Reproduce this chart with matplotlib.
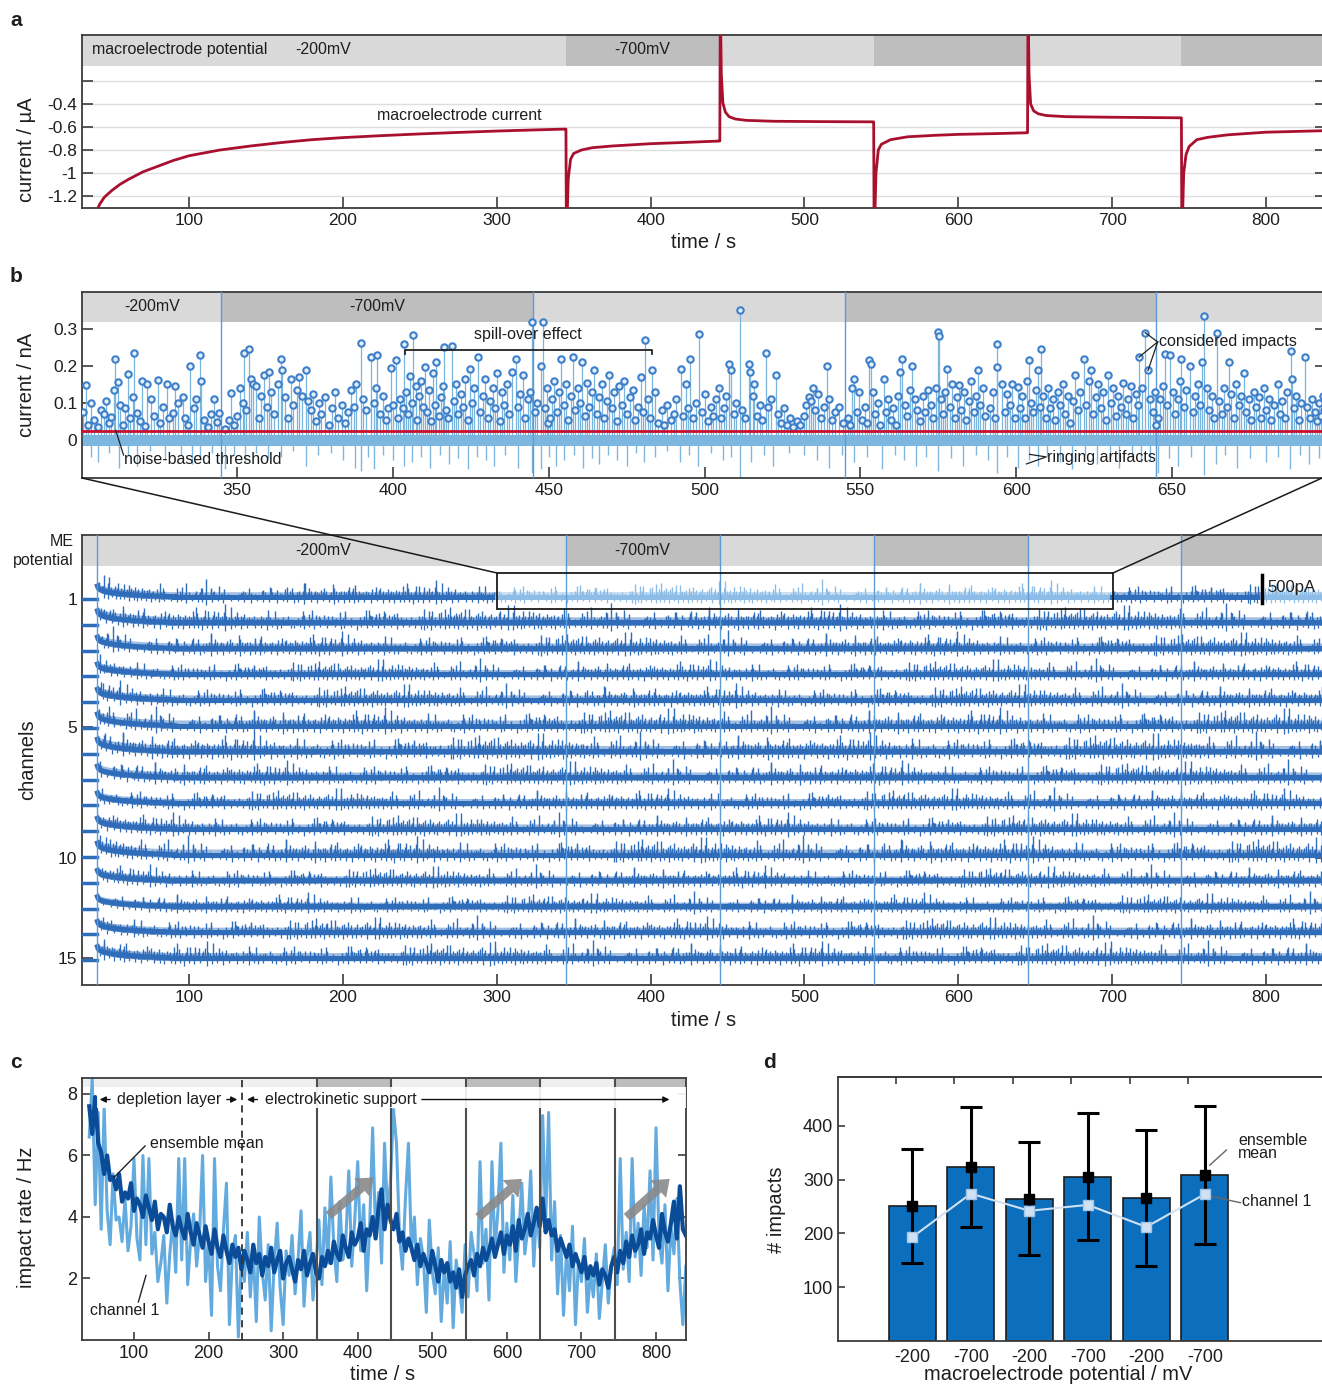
import numpy as np
import matplotlib
matplotlib.use("Agg")
import matplotlib.pyplot as plt
from matplotlib.patches import Rectangle, ConnectionPatch, FancyArrowPatch

plt.rcParams["font.family"] = ["Liberation Sans", "DejaVu Sans"]
plt.rcParams["axes.linewidth"] = 1.3
plt.rcParams["axes.edgecolor"] = "#3c3c3c"

W, H = 1322, 1385

# potential steps of the macroelectrode (s, mV)
step_edges = [0, 345, 445, 545, 645, 745, 900]
step_mv = [-200, -700, -200, -700, -200, -700]
record_start = 40.5

# macroelectrode current (s, uA)
me_t = [40, 42, 45, 50, 55, 60, 70, 80, 90, 100, 120, 140, 160, 180, 200, 225, 250, 275, 300, 325, 344.5,
        345, 345.3, 346.5, 348, 350, 355, 362, 375, 400, 420, 444.5,
        445, 445.3, 446, 447, 448.6, 451, 455, 462, 480, 510, 544.5,
        545, 545.3, 546.5, 548, 550, 556, 567, 585, 600, 625, 644.5,
        645, 645.3, 646, 647, 649, 652, 657, 670, 700, 744.5,
        745, 745.3, 746.5, 748, 750, 755, 762, 775, 800, 838]
me_i = [-1.33, -1.27, -1.21, -1.15, -1.10, -1.06, -0.99, -0.94, -0.89, -0.85, -0.80, -0.765, -0.735, -0.71,
        -0.692, -0.675, -0.66, -0.647, -0.635, -0.625, -0.618,
        -0.618, -1.6, -1.05, -0.88, -0.83, -0.80, -0.78, -0.765, -0.745, -0.735, -0.722,
        -0.722, 0.5, -0.15, -0.39, -0.47, -0.51, -0.53, -0.542, -0.55, -0.553, -0.555,
        -0.555, -1.6, -1.0, -0.80, -0.75, -0.71, -0.685, -0.672, -0.664, -0.657, -0.65,
        -0.65, 0.5, -0.15, -0.40, -0.46, -0.485, -0.50, -0.51, -0.515, -0.52,
        -0.52, -1.6, -1.0, -0.84, -0.77, -0.71, -0.69, -0.668, -0.645, -0.632]

# detected impacts on channel 1 (s, pA)
impact_t = [
    300.6, 301.4, 302.2, 303.0, 304.1, 305.3, 306.5, 307.2, 308.0, 308.9,
    309.6, 310.4, 311.0, 311.8, 312.6, 313.5, 314.2, 315.0, 315.7, 316.5,
    317.0, 317.9, 318.8, 319.6, 320.5, 321.2, 322.3, 323.4, 324.5, 325.3,
    326.2, 327.4, 328.3, 329.5, 330.1, 331.0, 332.6, 333.4, 334.2, 335.0,
    336.1, 337.0, 338.1, 338.5, 339.5, 340.6, 341.8, 342.6, 343.5, 344.3,
    346.0, 347.5, 348.2, 349.0, 350.1, 351.0, 351.8, 352.2, 353.0, 354.0,
    354.4, 355.2, 356.1, 357.0, 357.8, 358.6, 359.5, 360.2, 361.0, 362.0,
    363.1, 364.0, 364.5, 365.5, 366.3, 367.2, 368.0, 369.1, 370.0, 371.0,
    372.0, 372.8, 373.6, 374.5, 375.4, 376.3, 377.0, 378.2, 379.5, 380.4,
    381.3, 382.5, 383.6, 384.8, 385.6, 386.5, 387.4, 388.2, 389.7, 390.5,
    391.3, 392.9, 393.8, 394.6, 395.0, 396.0, 397.0, 397.8, 398.6, 399.4,
    400.2, 401.0, 401.7, 402.4, 403.2, 403.7, 404.3, 405.0, 405.6, 406.2,
    406.6, 407.3, 407.9, 408.5, 409.0, 409.6, 410.3, 410.9, 411.5, 412.1,
    412.8, 413.4, 414.0, 414.7, 415.3, 416.0, 416.4, 417.2, 417.8, 418.9,
    419.6, 420.3, 421.0, 421.8, 422.5, 423.3, 424.0, 424.7, 425.5, 426.2,
    427.4, 428.0, 428.8, 429.6, 430.4, 431.2, 432.0, 432.8, 433.5, 434.3,
    435.0, 435.8, 436.6, 437.4, 438.2, 439.4, 440.1, 440.9, 441.7, 442.5,
    443.3, 444.0, 444.6, 445.5, 446.3, 447.6, 448.1, 448.8, 449.5, 449.9,
    450.3, 451.0, 451.8, 452.6, 453.4, 454.0, 454.8, 455.6, 456.3, 457.2,
    457.9, 458.6, 459.4, 460.0, 460.7, 461.5, 462.3, 463.0, 463.8, 464.7,
    465.4, 466.2, 467.0, 467.8, 468.6, 469.4, 470.2, 471.0, 471.8, 472.6,
    473.4, 474.3, 475.2, 476.0, 476.9, 477.8, 478.6, 479.5, 480.3, 481.0,
    481.8, 482.5, 483.3, 484.0, 485.0, 486.2, 487.1, 488.0, 489.2, 490.1,
    491.0, 492.4, 493.2, 493.9, 494.8, 495.5, 496.4, 497.3, 498.3, 499.2,
    500.2, 501.1, 502.0, 502.8, 503.6, 504.5, 505.4, 506.2, 507.0, 508.0,
    508.4, 509.3, 510.2, 511.3, 512.1, 513.0, 514.3, 514.6, 515.4, 516.0,
    516.9, 517.7, 518.5, 519.7, 520.5, 521.4, 522.8, 523.6, 524.5, 525.5,
    526.4, 527.3, 528.5, 529.6, 530.6, 531.8, 532.7, 533.5, 534.3, 534.8,
    535.6, 536.5, 537.4, 538.3, 539.3, 540.1, 541.0, 542.0, 543.2, 544.4,
    546.0, 546.8, 547.3, 548.0, 548.8, 549.6, 550.5, 551.4, 552.2, 552.8,
    553.3, 554.0, 554.8, 555.6, 556.4, 557.5, 558.2, 559.0, 559.8, 560.6,
    561.4, 562.2, 562.7, 563.4, 564.2, 565.0, 565.8, 566.7, 567.5, 568.3,
    569.2, 570.0, 570.9, 571.8, 572.6, 573.4, 574.2, 575.0, 575.1, 575.8,
    576.6, 577.3, 577.9, 578.7, 579.5, 580.3, 581.0, 581.6, 582.4, 583.2,
    584.0, 584.8, 585.6, 586.4, 587.0, 587.6, 588.4, 589.2, 590.0, 591.6,
    592.4, 593.2, 593.8, 594.0, 595.6, 596.4, 597.2, 598.0, 598.8, 599.6,
    600.5, 601.3, 602.0, 602.8, 603.6, 604.1, 604.6, 605.4, 606.2, 606.9,
    607.6, 608.0, 608.7, 609.5, 610.3, 611.0, 611.8, 612.6, 613.4, 614.2,
    615.0, 615.8, 616.6, 617.4, 618.2, 619.0, 619.8, 620.6, 621.7, 622.4,
    623.2, 624.0, 624.8, 625.6, 626.4, 627.2, 628.0, 628.8, 629.6, 630.4,
    631.2, 632.0, 632.8, 633.6, 634.4, 635.2, 636.0, 636.8, 637.6, 638.4,
    639.0, 639.4, 640.4, 641.4, 642.2, 643.0, 643.8, 644.6, 645.0, 645.4,
    646.2, 647.0, 647.6, 648.3, 649.4, 650.2, 651.0, 651.8, 652.6, 653.0,
    653.8, 654.6, 655.8, 656.6, 657.4, 658.2, 659.0, 659.6, 660.4, 661.2,
    662.0, 662.8, 663.6, 664.4, 665.2, 666.0, 666.8, 667.6, 668.2, 669.0,
    669.8, 670.6, 671.4, 672.2, 673.0, 673.8, 674.6, 675.4, 676.2, 677.0,
    677.8, 678.6, 679.4, 680.2, 681.0, 681.8, 682.6, 683.9, 684.6, 685.4,
    686.2, 687.0, 688.2, 688.4, 689.0, 689.8, 690.6, 691.4, 692.6, 693.4,
    694.2, 695.0, 695.8, 696.6, 697.1, 697.8, 698.4, 698.9, 699.3, 699.8]
impact_pA = [
    75, 149, 40, 100, 55, 35, 82, 70, 105, 45,
    62, 135, 220, 157, 95, 40, 85, 178, 60, 115,
    235, 72, 50, 158, 38, 150, 110, 65, 162, 45,
    90, 150, 58, 72, 145, 100, 115, 60, 40, 200,
    85, 110, 230, 160, 55, 35, 70, 110, 48, 72,
    30, 55, 127, 40, 65, 140, 100, 235, 80, 247,
    165, 150, 145, 60, 120, 175, 90, 185, 130, 70,
    150, 220, 190, 115, 60, 165, 95, 135, 170, 120,
    190, 105, 80, 125, 50, 100, 70, 115, 40, 85,
    130, 60, 95, 45, 75, 135, 90, 150, 263, 110,
    82, 225, 100, 140, 230, 70, 120, 55, 85, 195,
    95, 215, 60, 110, 85, 260, 130, 70, 172, 100,
    285, 145, 55, 120, 160, 90, 198, 75, 135, 50,
    180, 95, 210, 65, 115, 145, 252, 80, 60, 255,
    105, 150, 70, 125, 90, 165, 55, 192, 100, 140,
    223, 75, 120, 165, 60, 105, 140, 85, 180, 50,
    130, 95, 150, 70, 185, 220, 90, 125, 175, 60,
    110, 130, 318, 75, 100, 200, 319, 85, 140, 45,
    60, 110, 160, 75, 130, 220, 95, 150, 55, 120,
    225, 80, 140, 100, 210, 65, 155, 90, 130, 190,
    70, 115, 150, 60, 105, 175, 85, 130, 50, 145,
    95, 160, 70, 115, 135, 55, 90, 170, 75, 270,
    110, 60, 190, 130, 45, 80, 40, 95, 55, 70,
    110, 193, 65, 150, 85, 220, 60, 100, 287, 75,
    125, 50, 90, 65, 110, 140, 60, 85, 120, 205,
    190, 70, 100, 350, 80, 60, 205, 185, 120, 150,
    65, 95, 55, 234, 90, 110, 175, 70, 45, 85,
    40, 60, 35, 50, 40, 65, 95, 115, 105, 140,
    80, 125, 60, 90, 200, 110, 55, 75, 90, 45,
    60, 40, 140, 165, 75, 130, 55, 90, 45, 215,
    205, 130, 70, 100, 40, 165, 75, 110, 55, 85,
    40, 120, 185, 220, 95, 65, 135, 200, 110, 80,
    50, 120, 75, 135, 95, 60, 140, 293, 280, 110,
    70, 130, 193, 90, 150, 60, 115, 148, 80, 130,
    55, 105, 160, 75, 120, 190, 95, 140, 65, 85,
    130, 60, 260, 196, 150, 75, 125, 95, 150, 60,
    142, 85, 120, 60, 160, 215, 100, 75, 135, 190,
    90, 246, 120, 60, 140, 85, 110, 55, 130, 95,
    150, 70, 120, 45, 105, 175, 80, 130, 220, 95,
    160, 188, 70, 115, 150, 85, 130, 55, 175, 100,
    140, 65, 120, 90, 155, 70, 110, 145, 60, 125,
    95, 224, 140, 290, 188, 110, 75, 130, 40, 60,
    110, 145, 233, 95, 230, 130, 70, 110, 160, 220,
    90, 135, 200, 75, 120, 150, 95, 210, 335, 140,
    80, 120, 60, 290, 105, 70, 140, 90, 210, 125,
    60, 150, 95, 120, 180, 75, 110, 55, 130, 90,
    115, 60, 140, 80, 110, 55, 95, 150, 70, 105,
    60, 130, 240, 165, 85, 120, 55, 100, 224, 90,
    60, 110, 75, 50, 100, 65, 120, 80, 45, 95]

# negative ringing after impacts (s, pA below zero)
ringing_t = [
    303.0, 305.5, 309.0, 312.0, 315.0, 318.0, 322.0, 327.0, 332.0, 335.5,
    338.0, 342.0, 346.0, 349.0, 352.5, 356.0, 360.0, 364.0, 368.0, 372.0,
    376.0, 380.0, 384.0, 388.0, 389.8, 392.0, 394.0, 397.0, 400.0, 403.5,
    406.0, 409.0, 412.0, 415.0, 418.0, 421.0, 424.0, 427.0, 430.0, 432.5,
    436.0, 440.0, 444.6, 447.5, 450.0, 452.5, 455.0, 458.0, 461.0, 464.0,
    466.0, 469.0, 472.0, 475.0, 478.0, 480.5, 484.0, 488.0, 492.0, 495.0,
    498.0, 502.0, 506.0, 508.5, 511.3, 515.0, 519.0, 522.0, 527.0, 532.0,
    536.0, 540.0, 544.0, 548.0, 552.0, 557.0, 561.0, 564.0, 568.0, 571.0,
    575.0, 579.0, 583.0, 587.0, 591.0, 594.0, 597.0, 600.5, 604.0, 607.0,
    610.0, 614.0, 618.0, 622.0, 626.0, 630.0, 633.0, 637.0, 640.0, 643.0,
    645.5, 649.0, 652.0, 656.0, 660.4, 664.0, 667.0, 671.0, 675.0, 680.0,
    684.0, 688.0, 691.0, 694.0, 697.0]
ringing_pA = [
    45, 60, 35, 75, 40, 70, 30, 55, 40, 65,
    50, 35, 80, 40, 60, 35, 50, 45, 30, 70,
    40, 35, 55, 75, 85, 45, 80, 40, 55, 70,
    60, 45, 75, 40, 65, 50, 80, 45, 55, 70,
    40, 75, 90, 80, 45, 70, 55, 40, 75, 50,
    65, 40, 55, 70, 35, 60, 45, 30, 60, 40,
    70, 35, 55, 45, 100, 60, 40, 70, 35, 40,
    55, 75, 40, 60, 45, 80, 40, 55, 70, 45,
    85, 50, 70, 40, 55, 90, 45, 75, 55, 70,
    45, 60, 80, 40, 65, 50, 75, 45, 60, 55,
    90, 50, 70, 45, 95, 65, 40, 75, 50, 60,
    45, 80, 40, 65, 50]

noise_floor_pA = (-17, 13)
threshold_pA = 25

# per-channel offset of the impact pattern (s) and gain
channel_shift = [0, 137, 61, 222, 205, 33, 118, 97, 249, 171, 12, 186, 83, 224, 149]
channel_gain = [1.0, 1.1, 1.05, 0.95, 1.0, 1.1, 1.15, 1.05, 0.95, 1.0, 1.1, 0.95, 0.9, 1.0, 1.05]
# charging transient after switching on the recording (s after start, pA)
onset_t = [0, 0.5, 2, 5, 10, 16, 24, 35, 50]
onset_pA = [190, 150, 120, 95, 70, 50, 32, 15, 0]
# dense sub-impact noise band seen at overview scale (pA)
band_pA = (-10, 130)

# impact rate, 4 s bins from 40 s to 840 s (Hz)
rate_t = np.arange(40, 841, 4)
rate_mean = [
    7.6, 6.7, 7.9, 6.4, 6.1, 5.4, 6.0, 5.2, 5.3, 4.9,
    5.4, 4.5, 4.8, 4.6, 5.1, 4.2, 4.6, 4.4, 4.0, 4.7,
    4.3, 3.9, 4.5, 3.6, 4.1, 4.0, 3.5, 4.4, 3.7, 3.4,
    4.0, 3.6, 3.3, 4.1, 3.5, 3.1, 3.8, 3.4, 3.0, 3.7,
    3.2, 2.8, 3.6, 3.0, 2.7, 3.4, 2.9, 2.5, 3.1, 2.7,
    3.0, 2.3, 2.9, 2.6, 2.2, 3.1, 2.5, 2.8, 2.1, 2.7,
    2.4, 3.0, 2.2, 2.6, 2.9, 2.0, 2.5, 2.7, 2.3, 1.9,
    2.6, 2.3, 2.9, 2.1, 2.5, 2.8, 2.2, 2.0, 2.7, 2.4,
    2.9, 2.5, 3.2, 2.8, 2.6, 3.4, 3.0, 2.7, 3.5, 3.1,
    3.3, 3.8, 2.9, 3.6, 3.4, 4.0, 3.3, 4.3, 4.9, 3.6,
    4.4, 3.9, 3.6, 4.1, 3.2, 3.5, 2.9, 3.3, 3.0, 2.6,
    3.1, 2.4, 2.8, 2.5, 2.2, 2.9, 2.4, 1.9, 2.6, 2.2,
    2.5, 1.9, 2.2, 1.7, 2.3, 1.4, 2.1, 2.4, 2.6, 2.1,
    2.8, 2.4, 3.0, 2.6, 2.9, 3.3, 2.7, 3.1, 3.5, 2.8,
    3.4, 3.1, 3.7, 2.9, 3.9, 3.3, 3.6, 4.1, 3.4, 3.8,
    4.3, 3.7, 4.6, 3.5, 3.9, 3.4, 3.6, 2.9, 3.3, 3.0,
    2.7, 3.1, 2.4, 2.8, 2.5, 2.2, 2.7, 2.0, 2.4, 2.1,
    2.5, 1.8, 2.3, 2.1, 1.7, 2.4, 2.7, 2.2, 2.9, 2.5,
    3.2, 2.7, 3.4, 2.9, 3.1, 3.6, 2.8, 3.5, 3.3, 3.9,
    3.4, 3.0, 4.1, 3.5, 3.2, 3.8, 4.5, 3.3, 5.0, 3.6,
    3.4]
rate_ch1 = [
    6.6, 8.5, 4.4, 7.4, 3.6, 7.6, 4.2, 3.1, 5.4, 3.9,
    4.0, 3.2, 4.6, 2.9, 3.7, 5.9, 3.3, 2.6, 6.0, 3.1,
    5.9, 2.8, 3.5, 1.9, 2.5, 3.4, 1.2, 2.8, 3.9, 2.2,
    5.9, 2.6, 5.9, 1.8, 3.2, 4.1, 2.4, 3.5, 6.0, 1.9,
    3.2, 0.8, 5.9, 2.4, 1.6, 3.6, 5.1, 0.5, 2.8, 3.4,
    0.1, 2.6, 1.9, 3.5, 1.4, 2.9, 0.6, 4.0, 2.2, 1.3,
    3.1, 0.3, 2.5, 3.8, 1.7, 0.5, 2.9, 2.1, 3.4, 1.5,
    2.6, 4.2, 1.1, 2.7, 3.5, 1.3, 2.4, 3.9, 1.8, 4.3,
    2.5, 5.3, 3.0, 1.9, 4.5, 2.6, 3.2, 5.5, 2.4, 3.9,
    5.8, 2.9, 4.4, 1.6, 3.7, 6.9, 3.4, 4.8, 2.5, 6.4,
    4.1, 5.2, 7.5, 6.4, 3.4, 2.3, 4.6, 6.4, 2.9, 4.0,
    1.8, 3.3, 2.7, 0.9, 3.9, 2.2, 1.5, 3.0, 0.6, 2.4,
    1.2, 3.2, 0.4, 2.6, 1.8, 0.9, 3.1, 1.4, 3.5, 2.8,
    1.6, 5.8, 2.5, 3.6, 1.3, 5.8, 2.9, 4.2, 6.4, 2.2,
    3.8, 2.6, 4.7, 1.9, 3.4, 5.1, 2.8, 3.6, 5.5, 2.4,
    4.3, 3.0, 7.3, 3.8, 7.4, 2.6, 4.5, 1.5, 3.4, 0.8,
    2.9, 1.6, 3.7, 0.5, 2.6, 1.9, 3.3, 0.9, 2.2, 1.4,
    2.8, 0.7, 1.9, 3.1, 1.2, 2.4, 3.0, 1.8, 5.9, 2.3,
    3.5, 1.9, 5.9, 2.7, 3.8, 2.1, 4.4, 3.0, 5.5, 2.6,
    6.9, 3.3, 2.5, 4.4, 1.6, 3.7, 2.8, 4.6, 1.9, 0.5,
    2.4]

# impacts per potential step
step_labels = ["-200", "-700", "-200", "-700", "-200", "-700"]
count_mean = [251, 323, 264, 305, 266, 308]
count_err = [106, 112, 105, 118, 126, 128]
count_ch1 = [193, 274, 242, 253, 212, 273]

# ---------------------------------------------------------------
LIGHT, DARK = "#d9d9d9", "#bebebe"
TRACE, TRACE_LIGHT = "#2f6dbb", "#8dbde6"
SWITCH = "#5d9bd6"
TXT = "#1e1e1e"

fig = plt.figure(figsize=(W / 100, H / 100), dpi=100)


def add_axes(left, top, right, bottom):
    return fig.add_axes([left / W, 1 - bottom / H, (right - left) / W, (bottom - top) / H])


def fig_text(x, y, s, **kw):
    fig.text(x / W, 1 - y / H, s, color=TXT, **kw)


def draw_steps(ax, lo, hi, light=LIGHT, dark=DARK):
    for t0, t1, mv in zip(step_edges[:-1], step_edges[1:], step_mv):
        ax.add_patch(Rectangle((t0, lo), t1 - t0, hi - lo, facecolor=dark if mv == -700 else light,
                               edgecolor="none", zorder=0.5))


def style(ax, length=8, size=12.5):
    ax.tick_params(direction="in", length=length, width=1.2, labelsize=size, colors="#3c3c3c",
                   labelcolor=TXT, right=True, top=False)


# ---- a: macroelectrode current ----
ax_a = add_axes(82, 35, 1326, 208)
draw_steps(ax_a, -0.067, 0.25)
for v in [-1.2, -1.0, -0.8, -0.6, -0.4, -0.2]:
    ax_a.axhline(v, color="#dedede", lw=1, zorder=1)
ax_a.plot(me_t, me_i, color="#a8102e", lw=2, zorder=3)
ax_a.set_xlim(30.46, 838.98)
ax_a.set_ylim(-1.304, 0.2)
ax_a.set_yticks([-1.2, -1.0, -0.8, -0.6, -0.4, -0.2], ["-1.2", "-1", "-0.8", "-0.6", "-0.4", ""])
ax_a.set_xticks(range(100, 900, 100))
style(ax_a)
ax_a.text(37, 0.07, "macroelectrode potential", fontsize=11.5, va="center", color=TXT)
ax_a.text(187, 0.07, "-200mV", fontsize=11.5, ha="center", va="center", color=TXT)
ax_a.text(394.4, 0.07, "-700mV", fontsize=11.5, ha="center", va="center", color=TXT)
ax_a.text(275.9, -0.496, "macroelectrode current", fontsize=11.5, ha="center", va="center", color=TXT)

# ---- b: zoom into channel 1 ----
ax_b = add_axes(82, 292, 1326, 478)
draw_steps(ax_b, 0.32, 0.45)
ax_b.axhspan(noise_floor_pA[0] / 1000, noise_floor_pA[1] / 1000, color="#7db6df", lw=0, zorder=2)
rt = np.array(ringing_t)
rd = np.array(ringing_pA) / 1000
ax_b.vlines(rt, -rd, 0, color="#7db6df", lw=1, zorder=2)
it = np.array(impact_t)
ih = np.array(impact_pA) / 1000
ax_b.vlines(it, 0, ih, color="#7ab5de", lw=0.9, zorder=3)
ax_b.plot(it, ih, "o", ms=4.6, mfc="#e6f0fa", mec="#3d7fc8", mew=1.5, zorder=4)
ax_b.axhline(threshold_pA / 1000, color="#c8102e", lw=2, zorder=5)
for t in step_edges[1:5]:
    ax_b.axvline(t, color=SWITCH, lw=1, zorder=3)
ax_b.set_xlim(300.27, 699.4)
ax_b.set_ylim(-0.103, 0.4)
ax_b.set_yticks([0, 0.1, 0.2, 0.3], ["0", "0.1", "0.2", "0.3"])
ax_b.set_xticks(range(350, 700, 50))
style(ax_b)
ax_b.text(322.7, 0.36, "-200mV", fontsize=11.5, ha="center", va="center", color=TXT)
ax_b.text(394.9, 0.36, "-700mV", fontsize=11.5, ha="center", va="center", color=TXT)
ax_b.text(443.4, 0.284, "spill-over effect", fontsize=11.5, ha="center", va="center", color=TXT)
ax_b.plot([403.9, 403.9, 483.1, 483.1], [0.231, 0.243, 0.243, 0.231], color="#222", lw=1.3, zorder=6)
ax_b.text(645.8, 0.265, "considered impacts", fontsize=11.5, va="center", color=TXT, zorder=7)
for t, v in [(641.4, 0.29), (639.4, 0.224), (642.3, 0.188)]:
    ax_b.plot([645.4, t], [0.265, v], color="#222", lw=0.9, zorder=7)
ax_b.text(313.8, -0.054, "noise-based threshold", fontsize=11.5, va="center", color=TXT, zorder=7)
ax_b.plot([311.1, 313.6], [0.026, -0.041], color="#222", lw=0.9, zorder=7)
ax_b.text(609.8, -0.048, "ringing artifacts", fontsize=11.5, va="center", color=TXT, zorder=7)
ax_b.plot([604.3, 609.6, 603.3], [-0.039, -0.046, -0.065], color="#222", lw=0.9, zorder=7)

# ---- channel overview ----
ax_c = add_axes(82, 535, 1326, 985)
draw_steps(ax_c, -1.48, -0.28)
gain = 2.17  # channel units per nA (500 pA bar)
t_end = 838.98
band_t = np.concatenate([record_start + np.array(onset_t), [t_end]])
band_lift = np.concatenate([np.array(onset_pA), [0]]) / 1000
for k, (shift, g) in enumerate(zip(channel_shift, channel_gain)):
    base = k + 1
    tt = np.concatenate([it + n * 400 - shift for n in (-1, 0, 1)])
    hh = np.tile(ih, 3)
    keep = (tt > record_start + 0.8) & (tt < t_end)
    tt, hh = tt[keep], hh[keep]
    rr = np.concatenate([rt + n * 400 - shift for n in (-1, 0, 1)])
    dd = np.tile(rd, 3)
    keep = (rr > record_start + 0.8) & (rr < t_end)
    rr, dd = rr[keep], dd[keep]
    # lift of the trace during the charging transient
    lift = g * gain * np.interp(tt - record_start, onset_t, onset_pA) / 1000
    liftr = g * gain * np.interp(rr - record_start, onset_t, onset_pA) / 1000
    if k == 0:
        light = ((tt >= 300) & (tt <= 700)) | (tt >= 797.4)
        lightr = ((rr >= 300) & (rr <= 700)) | (rr >= 797.4)
        segs = [(90, 300, TRACE), (300, 700, TRACE_LIGHT), (700, 797.4, TRACE), (797.4, t_end, TRACE_LIGHT)]
    else:
        light = np.zeros(len(tt), bool)
        lightr = np.zeros(len(rr), bool)
        segs = [(90, t_end, TRACE)]
    # translucent noise band under the spikes
    for t0, t1, col in [(record_start, 90, TRACE)] + segs:
        m = (band_t >= t0) & (band_t <= t1)
        bt = np.concatenate([[t0], band_t[m], [t1]])
        bl = np.interp(bt, band_t, band_lift)
        ax_c.fill_between(bt, base - g * gain * (bl + band_pA[0] / 1000), base - g * gain * (bl + band_pA[1] / 1000),
                          color=col, alpha=0.45, lw=0, zorder=1.5)
    for mask, col in [(~light, TRACE), (light, TRACE_LIGHT)]:
        ax_c.vlines(tt[mask], base - lift[mask], base - lift[mask] - g * gain * hh[mask],
                    color=col, lw=1.0, zorder=2)
    for mask, col in [(~lightr, TRACE), (lightr, TRACE_LIGHT)]:
        ax_c.vlines(rr[mask], base - liftr[mask], base - liftr[mask] + g * gain * dd[mask],
                    color=col, lw=0.9, zorder=2)
    ax_c.plot([30, record_start], [base, base], color=TRACE, lw=2.5, zorder=3)
    ax_c.plot(record_start + np.array(onset_t), base - g * gain * np.array(onset_pA) / 1000 - 0.09,
              color=TRACE, lw=3.6, zorder=3)
    for t0, t1, col in segs:
        ax_c.plot([t0, t1], [base - 0.09, base - 0.09], color=col, lw=3.6, zorder=3)
for t in [record_start] + step_edges[1:6]:
    ax_c.axvline(t, color=SWITCH, lw=1, zorder=4)
ax_c.add_patch(Rectangle((300.2, -0.008), 400.3, 1.396, fill=False, edgecolor="#1a1a1a", lw=1.3, zorder=6))
ax_c.plot([797.4, 797.4], [0.07, 1.155], color="k", lw=2.5, zorder=6)
ax_c.text(800.8, 0.55, "500pA", fontsize=12, va="center", color=TXT, zorder=6)
ax_c.set_xlim(30.46, t_end)
ax_c.set_ylim(15.96, -1.48)
ax_c.set_yticks([1, 5.96, 11.04, 14.92], ["1", "5", "10", "15"])
ax_c.set_xticks(range(100, 900, 100))
style(ax_c)
ax_c.text(187, -0.88, "-200mV", fontsize=11.5, ha="center", va="center", color=TXT)
ax_c.text(394.4, -0.88, "-700mV", fontsize=11.5, ha="center", va="center", color=TXT)

for xa, xb in [((0, 0), (300.2, -0.008)), ((0.9968, 0), (700.5, -0.008))]:
    con = ConnectionPatch(xyA=xa, coordsA=ax_b.transAxes, xyB=xb, coordsB=ax_c.transData,
                          color="#1a1a1a", lw=1.1, zorder=10)
    fig.add_artist(con)

# ---- c: impact rate ----
ax_r = add_axes(82, 1078, 686, 1340)
draw_steps(ax_r, 8.23, 9, light="#efefef", dark="#bdbdbd")
ax_r.plot(rate_t, rate_ch1, color="#63abdf", lw=2.2, zorder=2)
ax_r.plot(rate_t, rate_mean, color="#0b4c99", lw=3.0, zorder=3)
for t in step_edges[1:6]:
    ax_r.axvline(t, color="#4d4d4d", lw=1.5, zorder=4)
ax_r.fill_between([50, 840], 7.55, 8.23, color="white", alpha=0.9, lw=0, zorder=4.5)
ax_r.axvline(244.5, color="#333", lw=1.3, ls=(0, (4, 3)), zorder=5)
for p0, p1 in [((358, 3.99), (424, 5.34)), ((559, 3.93), (623, 5.30)), ((758, 3.93), (821, 5.30))]:
    ax_r.add_patch(FancyArrowPatch(p0, p1, arrowstyle="simple,head_width=1.7,head_length=1.1,tail_width=0.65",
                                   mutation_scale=10, color="#8a8a8a", alpha=0.9, lw=0, zorder=5))
ax_r.set_xlim(30.3, 840.2)
ax_r.set_ylim(0, 8.52)
ax_r.set_yticks([2, 4, 6, 8])
ax_r.set_xticks(range(100, 900, 100))
style(ax_r, length=6, size=13)
ar = dict(arrowstyle="-|>", color="#111", lw=1, mutation_scale=9, shrinkA=0, shrinkB=0)
ax_r.text(147, 7.82, "depletion layer", fontsize=11.5, ha="center", va="center", color=TXT, zorder=6)
ax_r.annotate("", xy=(54, 7.82), xytext=(68, 7.82), arrowprops=ar, zorder=6)
ax_r.annotate("", xy=(238.5, 7.82), xytext=(224.5, 7.82), arrowprops=ar, zorder=6)
ax_r.text(378, 7.82, "electrokinetic support", fontsize=11.5, ha="center", va="center", color=TXT, zorder=6)
ax_r.annotate("", xy=(251.5, 7.82), xytext=(265.5, 7.82), arrowprops=ar, zorder=6)
ax_r.annotate("", xy=(818, 7.82), xytext=(486, 7.82), arrowprops=ar, zorder=6)
ax_r.text(121, 6.38, "ensemble mean", fontsize=11.5, va="center", color=TXT, zorder=6)
ax_r.plot([114.9, 72.9], [6.31, 5.28], color="#222", lw=1, zorder=6)
ax_r.text(88, 0.97, "channel 1", fontsize=11.5, ha="center", va="center", color=TXT, zorder=6)
ax_r.plot([105.9, 116.1], [1.24, 2.1], color="#222", lw=1, zorder=6)

# ---- d: impacts per step ----
ax_d = add_axes(838, 1077, 1330, 1341)
x = np.arange(1, len(count_mean) + 1)
ax_d.bar(x, count_mean, width=0.8, color="#0b6fbe", edgecolor="#1e1e1e", lw=1.2, zorder=2)
ax_d.errorbar(x, count_mean, yerr=count_err, fmt="s", color="k", ms=7.5, lw=2.2, capsize=8,
              capthick=2.2, zorder=4)
ax_d.plot(x, count_ch1, "-s", color="#cfe1f3", mec="#a3c6e8", ms=7, lw=1.5, zorder=5)
ax_d.set_xlim(-0.27, 8.14)
ax_d.set_ylim(0, 490.7)
ax_d.set_xticks(x, step_labels)
ax_d.set_yticks([100, 200, 300, 400])
ax_d.tick_params(axis="y", direction="in", length=5, width=1.2, labelsize=13, colors="#3c3c3c",
                 labelcolor=TXT)
ax_d.tick_params(axis="x", length=0, pad=6, labelsize=13, labelcolor=TXT)
top = ax_d.secondary_xaxis("top")
top.set_xticks(x - 0.28)
top.set_xticklabels([])
top.tick_params(direction="in", length=5, width=1.2, colors="#3c3c3c")
ax_d.text(6.57, 361, "ensemble\nmean", fontsize=11.5, va="center", linespacing=0.85, color=TXT)
ax_d.plot([6.37, 6.086], [355, 327], color="#666", lw=1)
ax_d.text(6.64, 259, "channel 1", fontsize=11.5, va="center", color=TXT)
ax_d.plot([6.61, 6.02], [257, 271], color="#666", lw=1)

# ---- labels ----
for s, px, py in [("a", 16, 20), ("b", 16, 276), ("c", 16, 1062), ("d", 770, 1062)]:
    fig_text(px, py, s, fontsize=15, fontweight="bold", ha="center", va="center")
fig_text(27, 150, "current / µA", fontsize=14.5, rotation=90, ha="center", va="center")
fig_text(704, 243, "time / s", fontsize=14.5, ha="center", va="center")
fig_text(27, 385, "current / nA", fontsize=14.5, rotation=90, ha="center", va="center")
fig_text(74, 551, "ME\npotential", fontsize=11.5, ha="right", va="center", linespacing=1.25)
fig_text(28, 760, "channels", fontsize=14.5, rotation=90, ha="center", va="center")
fig_text(704, 1020, "time / s", fontsize=14.5, ha="center", va="center")
fig_text(27, 1217, "impact rate / Hz", fontsize=14.5, rotation=90, ha="center", va="center")
fig_text(383, 1374, "time / s", fontsize=14.5, ha="center", va="center")
fig_text(777, 1210, "# impacts", fontsize=14.5, rotation=90, ha="center", va="center")
fig_text(1058, 1374, "macroelectrode potential / mV", fontsize=14.5, ha="center", va="center")

fig.savefig("out.png", dpi=100)
